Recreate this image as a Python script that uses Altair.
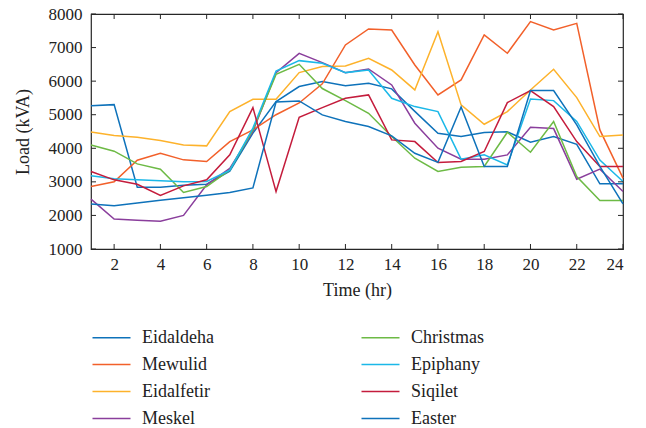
import altair as alt
import pandas as pd

# Hourly load profiles (kVA) for each holiday
hours = list(range(1, 25))

eidaldeha = [5270, 5300, 2840, 2840, 2900, 2930, 3320, 4450, 5390, 5840, 5990, 5860,
             5940, 5770, 5100, 4450, 4350, 4470, 4490, 4180, 4350, 4120, 2940, 2940]
mewulid = [2860, 3000, 3645, 3850, 3655, 3605, 4200, 4550, 5000, 5350, 5920, 7077,
           7554, 7524, 6482, 5589, 6036, 7375, 6830, 7772, 7524, 7722, 4548, 3110]
eidalfetir = [4488, 4379, 4330, 4230, 4100, 4072, 5093, 5460, 5460, 6254, 6433, 6452,
              6681, 6333, 5738, 7474, 5292, 4716, 5093, 5738, 6353, 5510, 4349, 4399]
meskel = [2485, 1890, 1860, 1830, 2000, 2911, 3400, 4500, 6250, 6829, 6552, 6254,
          6363, 5887, 4746, 4002, 3675, 3675, 3804, 4627, 4587, 3080, 3378, 2713]
christmas = [4100, 3913, 3536, 3377, 2683, 2860, 3350, 4548, 6200, 6502, 5780, 5420,
             5044, 4349, 3705, 3308, 3437, 3457, 4478, 3883, 4796, 3160, 2444, 2444]
epiphany = [3179, 3090, 3060, 3030, 3000, 3010, 3350, 4600, 6300, 6611, 6532, 6254,
            6333, 5490, 5242, 5093, 3675, 3804, 3506, 5470, 5420, 4800, 3650, 3010]
siqilet = [3308, 3060, 2930, 2594, 2880, 3060, 3804, 5213, 2710, 4925, 5212, 5490,
           5590, 4250, 4200, 3576, 3605, 3903, 5361, 5718, 5242, 4200, 3460, 3460]
easter = [2340, 2290, 2370, 2450, 2530, 2600, 2680, 2820, 5380, 5410, 4994, 4800,
          4647, 4370, 3850, 3580, 5232, 3460, 3460, 5718, 5718, 4700, 3460, 2345]

series_names = ["Eidaldeha", "Mewulid", "Eidalfetir", "Meskel",
                "Christmas", "Epiphany", "Siqilet", "Easter"]
series_values = [eidaldeha, mewulid, eidalfetir, meskel,
                 christmas, epiphany, siqilet, easter]
series_colors = ["#0E72BA", "#F2602A", "#FDB22B", "#8A3E9C",
                 "#6DBA45", "#1BB8E8", "#C41C3C", "#0E72BA"]

x_ticks = list(range(2, 25, 2))
y_ticks = list(range(1000, 8001, 1000))

rows = []
for i, (name, vals) in enumerate(zip(series_names, series_values)):
    for h, v in zip(hours, vals):
        rows.append({"hour": h, "load": v, "series": name, "order": i})
df = pd.DataFrame(rows)

W, H = 532, 235
FONT = "Liberation Serif"
INK = "#222222"

x_scale = alt.Scale(domain=[1, 24], nice=False, zero=False)
y_scale = alt.Scale(domain=[1000, 8000], nice=False, zero=False)

x_axis = alt.Axis(values=x_ticks, ticks=False, domain=False, grid=False, format="d",
                  labelPadding=7, titlePadding=9, labelFontSize=17,
                  titleFontSize=18, labelFont=FONT, titleFont=FONT,
                  labelColor=INK, titleColor=INK, titleFontWeight="normal")
y_axis = alt.Axis(values=y_ticks, ticks=False, domain=False, grid=False, format="d",
                  labelPadding=9, titlePadding=16, labelFontSize=17,
                  titleFontSize=18, labelFont=FONT, titleFont=FONT,
                  labelColor=INK, titleColor=INK, titleFontWeight="normal")

X = alt.X("hour:Q", scale=x_scale, title="Time (hr)", axis=x_axis)
Y = alt.Y("load:Q", scale=y_scale, title="Load (kVA)", axis=y_axis)

# Legend key: a flat line twice as long as the nominal symbol size
legend_line = "M-2,0H2"

lines = alt.Chart(df).mark_line(strokeWidth=1.5).encode(
    x=X,
    y=Y,
    color=alt.Color("series:N",
                    scale=alt.Scale(domain=series_names, range=series_colors),
                    legend=alt.Legend(orient="none", legendX=10, legendY=313,
                                      columns=2, direction="vertical",
                                      title=None, symbolType=legend_line,
                                      symbolSize=361, symbolStrokeWidth=1.5,
                                      symbolFillColor="transparent",
                                      labelFont=FONT, labelFontSize=18,
                                      labelColor=INK, columnPadding=144,
                                      rowPadding=7, labelOffset=20,
                                      labelLimit=200)),
    order=alt.Order("order:Q"),
)

# Inward tick marks on all four sides of the box
tick_df_x = pd.DataFrame({"hour": x_ticks})
tick_df_y = pd.DataFrame({"load": y_ticks})
tick_color = "#262626"

bottom_ticks = alt.Chart(tick_df_x).mark_rule(color=tick_color).encode(
    x=X, y=alt.value(H), y2=alt.value(H - 5))
top_ticks = alt.Chart(tick_df_x).mark_rule(color=tick_color).encode(
    x=X, y=alt.value(0), y2=alt.value(5))
left_ticks = alt.Chart(tick_df_y).mark_rule(color=tick_color).encode(
    y=Y, x=alt.value(0), x2=alt.value(5))
right_ticks = alt.Chart(tick_df_y).mark_rule(color=tick_color).encode(
    y=Y, x=alt.value(W), x2=alt.value(W - 5))

chart = alt.layer(lines, bottom_ticks, top_ticks, left_ticks, right_ticks).properties(
    width=W, height=H,
    autosize=alt.AutoSizeParams(type="none"),
    padding={"left": 91, "top": 14, "right": 23, "bottom": 179},
    background="white",
).configure_view(stroke="#262626", strokeWidth=1.2)

chart.save("out.html", embed_options={"renderer": "svg", "actions": False})
